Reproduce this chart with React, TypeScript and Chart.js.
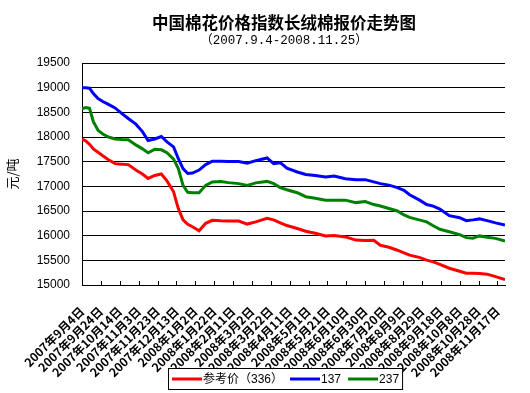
import React, { useEffect, useRef } from "react";
import { Chart, registerables } from "chart.js";

Chart.register(...registerables);

// ---- data (day offsets from 2007-09-04) ----
const days = [0, 4, 8, 12, 17, 22, 28, 35, 42, 49, 57, 64, 70, 77, 84, 90, 97, 102, 107, 112, 117, 124, 131, 138, 147, 155, 166, 175, 184, 196, 203, 210, 217, 228, 237, 247, 258, 267, 279, 290, 300, 309, 316, 325, 334, 341, 347, 358, 365, 372, 379, 389, 400, 407, 414, 421, 429, 438, 448];

const ref336 = [17960, 17920, 17850, 17760, 17690, 17620, 17540, 17460, 17450, 17440, 17330, 17250, 17160, 17220, 17250, 17110, 16890, 16550, 16320, 16230, 16180, 16100, 16250, 16310, 16300, 16295, 16295, 16235, 16280, 16350, 16320, 16260, 16205, 16145, 16090, 16050, 15995, 16005, 15975, 15910, 15900, 15905, 15805, 15765, 15705, 15650, 15605, 15555, 15505, 15470, 15420, 15340, 15280, 15240, 15240, 15235, 15220, 15170, 15110];

const s137 = [19000, 19000, 18990, 18880, 18780, 18720, 18660, 18590, 18480, 18375, 18260, 18110, 17930, 17960, 18010, 17900, 17800, 17560, 17360, 17260, 17270, 17330, 17440, 17510, 17510, 17505, 17505, 17470, 17520, 17575, 17460, 17480, 17370, 17290, 17240, 17220, 17190, 17210, 17155, 17135, 17135, 17090, 17055, 17025, 16975, 16920, 16830, 16715, 16630, 16600, 16540, 16405, 16365, 16305, 16320, 16340, 16305, 16260, 16215];

const s237 = [18570, 18595, 18580, 18310, 18135, 18060, 18000, 17960, 17950, 17945, 17840, 17760, 17680, 17750, 17740, 17680, 17550, 17360, 17020, 16880, 16870, 16870, 17020, 17090, 17100, 17075, 17055, 17020, 17070, 17100, 17055, 16975, 16930, 16870, 16790, 16760, 16720, 16720, 16720, 16670, 16690, 16630, 16600, 16550, 16500, 16420, 16370, 16315, 16280, 16200, 16130, 16080, 16020, 15960, 15950, 15995, 15970, 15945, 15890];

const seriesNames = ["参考价（336）", "137", "237"];
const seriesColors = ["#FF0000", "#0000FF", "#008000"];

const xTickDays = [0, 20, 40, 60, 80, 100, 120, 140, 160, 180, 200, 220, 240, 260, 280, 300, 320, 340, 360, 380, 400, 420, 440];
const xTickLabels = [
  "2007年9月4日", "2007年9月24日", "2007年10月14日", "2007年11月3日", "2007年11月23日",
  "2007年12月13日", "2008年1月2日", "2008年1月22日", "2008年2月11日", "2008年3月2日",
  "2008年3月22日", "2008年4月11日", "2008年5月1日", "2008年5月21日", "2008年6月10日",
  "2008年6月30日", "2008年7月20日", "2008年8月9日", "2008年8月29日", "2008年9月18日",
  "2008年10月8日", "2008年10月28日", "2008年11月17日",
];
const xMin = 0;
const xMax = 448;
const yMin = 15000;
const yMax = 19500;
const yStep = 500;

const titleText = "中国棉花价格指数长绒棉报价走势图";
const subtitleText = "（2007.9.4-2008.11.25）";
const yAxisTitle = "元/吨";

const W = 530;
const H = 393;

const decorPlugin = {
  id: "decor",
  afterDraw(chart: any) {
    const ctx = chart.ctx as CanvasRenderingContext2D;
    const a = chart.chartArea;
    ctx.save();
    // titles
    ctx.fillStyle = "#000";
    ctx.textAlign = "center";
    ctx.textBaseline = "middle";
    ctx.font = "bold 16.5px 'Noto Sans CJK SC'";
    ctx.fillText(titleText, 284, 23);
    ctx.font = "12.5px 'Liberation Mono', 'Noto Sans CJK SC'";
    ctx.fillText(subtitleText, 284, 41);

    // inward tick marks on x axis
    const xs = chart.scales.x;
    ctx.strokeStyle = "#000";
    ctx.lineWidth = 1;
    ctx.beginPath();
    xs.ticks.forEach((t: any) => {
      const px = Math.round(xs.getPixelForValue(t.value)) + 0.5;
      ctx.moveTo(px, a.bottom);
      ctx.lineTo(px, a.bottom - 4);
    });
    ctx.stroke();

    // legend
    ctx.font = "12px 'Liberation Sans', 'Noto Sans CJK SC'";
    ctx.textAlign = "left";
    ctx.textBaseline = "middle";
    const left = 168;
    const top = 368;
    const h = 21;
    const cy = top + h / 2 + 0.5;
    let width = 4;
    chart.data.datasets.forEach((ds: any) => {
      width += 31 + ctx.measureText(ds.label).width + 7;
    });
    width -= 4;
    ctx.fillStyle = "#fff";
    ctx.fillRect(left, top, width + 1, h + 1);
    let x = left + 4;
    chart.data.datasets.forEach((ds: any) => {
      ctx.strokeStyle = ds.borderColor;
      ctx.lineWidth = 3;
      ctx.beginPath();
      ctx.moveTo(x, cy);
      ctx.lineTo(x + 30, cy);
      ctx.stroke();
      x += 31;
      ctx.fillStyle = "#000";
      ctx.fillText(ds.label, x, cy + 1);
      x += ctx.measureText(ds.label).width + 7;
    });
    ctx.strokeStyle = "#000";
    ctx.lineWidth = 1;
    ctx.strokeRect(left + 0.5, top + 0.5, width, h);
    ctx.restore();
  },
};

export default function App() {
  const canvasRef = useRef<HTMLCanvasElement | null>(null);

  useEffect(() => {
    document.body.style.margin = "0";
    document.body.style.background = "#fff";
    const canvas = canvasRef.current;
    if (!canvas) return;
    const series = [ref336, s137, s237];
    const chart = new Chart(canvas, {
      type: "line",
      data: {
        datasets: series.map((vals, i) => ({
          label: seriesNames[i],
          data: days.map((d, j) => ({ x: d, y: vals[j] })),
          borderColor: seriesColors[i],
          backgroundColor: seriesColors[i],
          borderWidth: 3,
          pointRadius: 0,
          tension: 0,
          fill: false,
        })),
      },
      options: {
        responsive: false,
        animation: false,
        devicePixelRatio: 1,
        layout: { padding: { left: 0, right: 25, top: 63, bottom: 0 } },
        plugins: {
          legend: { display: false },
          title: { display: false },
          tooltip: { enabled: false },
        },
        scales: {
          x: {
            type: "linear",
            min: xMin,
            max: xMax,
            afterBuildTicks: (scale: any) => {
              scale.ticks = xTickDays.map((v) => ({ value: v }));
            },
            afterFit: (scale: any) => {
              scale.height = 108;
            },
            grid: { display: false },
            border: { display: true, color: "#000", width: 1 },
            ticks: {
              autoSkip: false,
              minRotation: 45,
              maxRotation: 45,
              padding: 11,
              color: "#000",
              font: { family: "'Noto Sans CJK SC'", size: 12, weight: "bold" },
              callback: (value: any) => {
                const idx = xTickDays.indexOf(Number(value));
                return idx >= 0 ? xTickLabels[idx] : "";
              },
            },
          },
          y: {
            type: "linear",
            min: yMin,
            max: yMax,
            afterFit: (scale: any) => {
              scale.width = 82;
            },
            grid: { color: "#000", lineWidth: 1, drawTicks: false },
            border: { display: true, color: "#000", width: 1 },
            ticks: {
              stepSize: yStep,
              padding: 12,
              color: "#000",
              font: { family: "'Liberation Sans', Arial", size: 12 },
              callback: (value: any) => String(value),
            },
            title: {
              display: true,
              text: yAxisTitle,
              color: "#000",
              padding: { top: 4, bottom: 0 },
              font: { family: "'Noto Sans CJK SC'", size: 13 },
            },
          },
        },
      },
      plugins: [decorPlugin],
    });
    return () => chart.destroy();
  }, []);

  return (
    <div style={{ width: W, height: H, background: "#fff", overflow: "hidden" }}>
      <canvas ref={canvasRef} width={W} height={H} style={{ display: "block" }} />
    </div>
  );
}
